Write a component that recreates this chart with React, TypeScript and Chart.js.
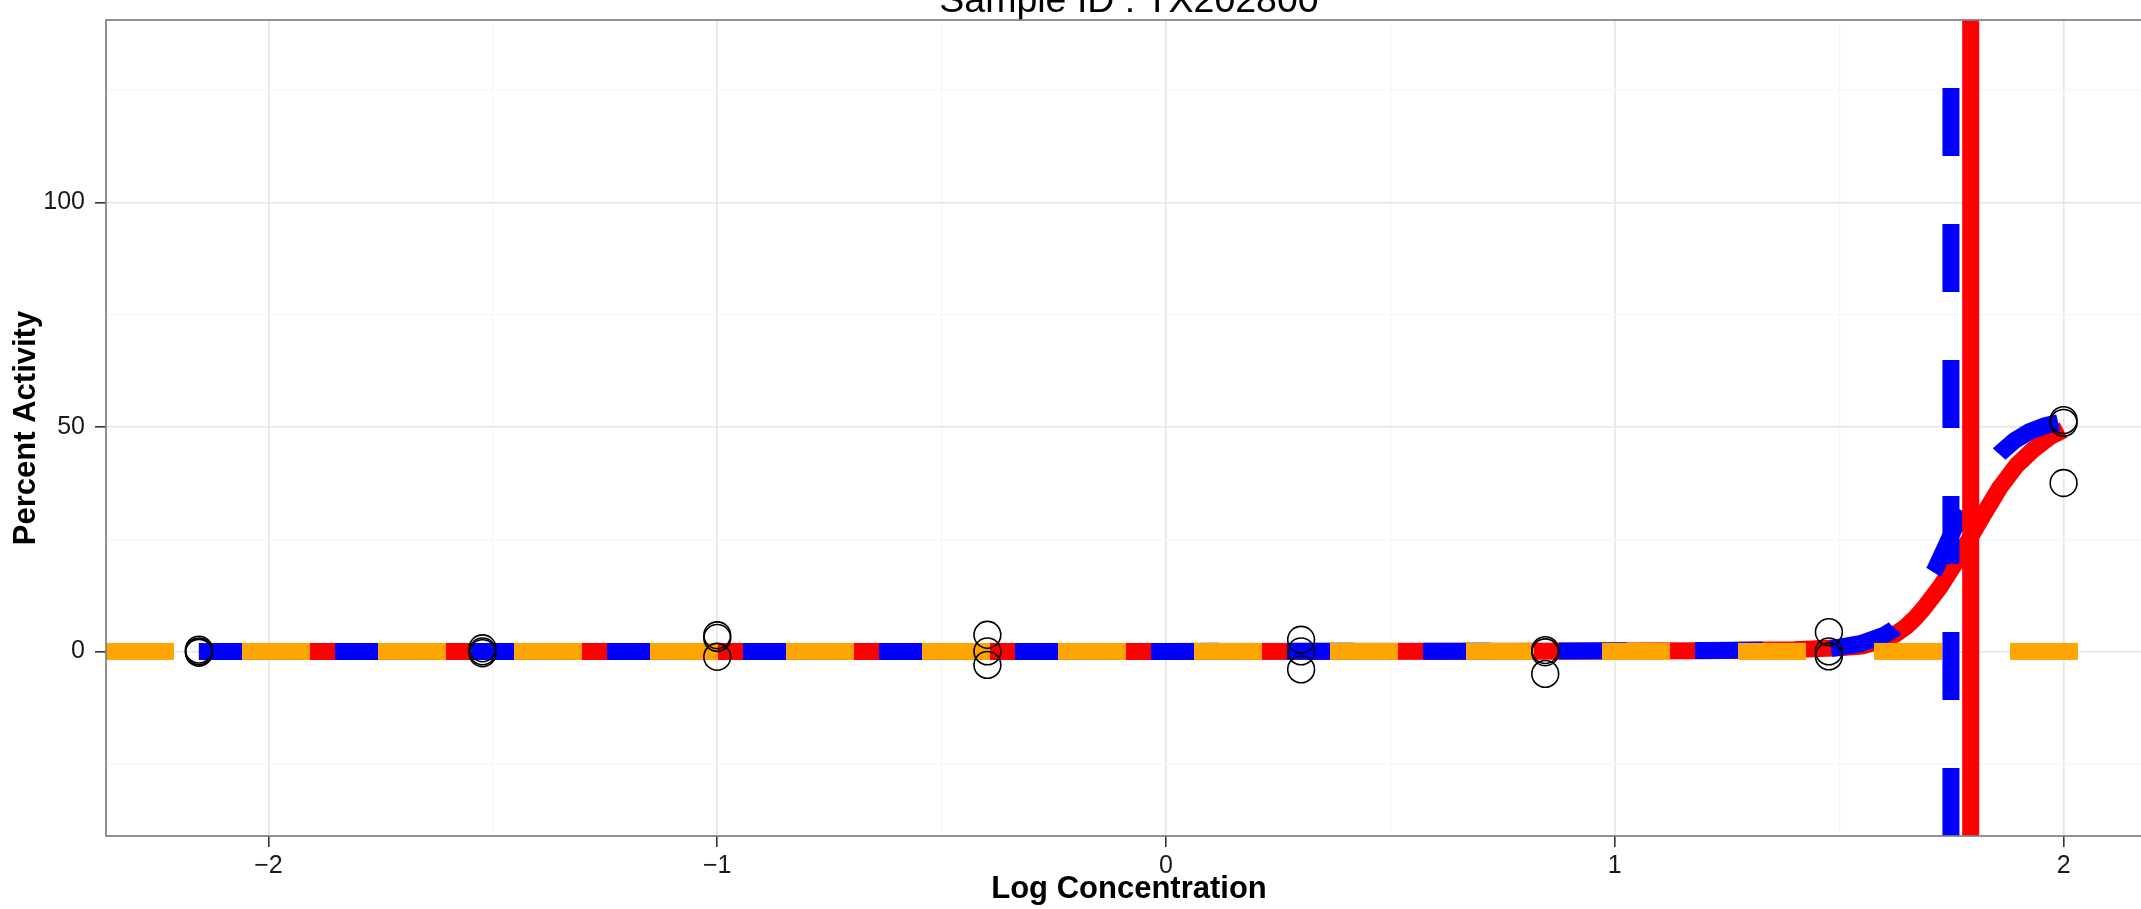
import React, { useEffect, useRef } from 'react';
import { Chart, registerables } from 'chart.js';

Chart.register(...registerables);

// ---- text ----
const TITLE = 'Sample ID : TX202800';
const X_TITLE = 'Log Concentration';
const Y_TITLE = 'Percent Activity';

// ---- axes ----
const xRange = [-2.362, 2.197];
const yRange = [-41.1, 140.6];
const xMajorTicks = [-2, -1, 0, 1, 2];
const xMinorTicks = [-1.5, -0.5, 0.5, 1.5];
const yMajorTicks = [0, 50, 100];
const yMinorTicks = [-25, 25, 75, 125];

// ---- observed points (three replicates per concentration) ----
const logConc = [-2.155, -1.523, -1.0, -0.398, 0.301, 0.845, 1.477, 2.0];
const rep1 = [0.4, 0.7, 3.6, 3.7, 2.6, 0.3, 4.3, 51.5];
const rep2 = [0.0, 0.0, 3.0, 0.0, 0.0, -0.2, 0.0, 50.9];
const rep3 = [-0.3, -0.4, -1.2, -3.0, -4.0, -5.0, -1.1, 37.5];

// ---- fitted curves ----
const redCurveX = [-2.155, -1.0, 0.0, 0.8, 1.2, 1.4, 1.5, 1.55, 1.6, 1.625, 1.65, 1.67, 1.69, 1.725, 1.762, 1.791, 1.821, 1.858, 1.895, 1.932, 1.97, 2.0];
const redCurveY = [0, 0, 0.01, 0.03, 0.15, 0.4, 0.8, 1.2, 2.6, 3.8, 5.6, 7.5, 9.8, 14.4, 20.2, 25.2, 30.4, 36.5, 41.4, 44.9, 47.8, 49.3];
const blueCurveX = [-2.155, -1.0, 0.0, 0.8, 1.2, 1.4, 1.48, 1.55, 1.6, 1.621, 1.65, 1.68, 1.7135, 1.745, 1.769, 1.8, 1.83, 1.858, 1.89, 1.925, 1.96, 2.0];
const blueCurveY = [0, 0, 0.01, 0.04, 0.2, 0.4, 0.6, 1.8, 3.6, 4.9, 8.3, 12.8, 18.2, 25.0, 30.0, 36.5, 41.0, 44.1, 46.9, 49.0, 50.3, 51.2];

// ---- reference lines ----
const redAC50 = 1.793;
const blueAC50 = 1.749;
const baselineY = 0;

const FONT = "'Liberation Sans', Arial, Helvetica, sans-serif";

const fmt = (v: number) => (v < 0 ? '\u2212' + Math.abs(v) : String(v));

const panelBorder = {
  id: 'panelBorder',
  afterDatasetsDraw(chart: any) {
    const { ctx, chartArea: a } = chart;
    ctx.save();
    ctx.strokeStyle = '#7f7f7f';
    ctx.lineWidth = 1.7;
    ctx.strokeRect(a.left, a.top, a.right - a.left, a.bottom - a.top);
    ctx.restore();
  },
};

export default function App() {
  const ref = useRef<HTMLCanvasElement>(null);

  useEffect(() => {
    const pts: { x: number; y: number }[] = [];
    logConc.forEach((x, i) => {
      pts.push({ x, y: rep1[i] });
      pts.push({ x, y: rep2[i] });
      pts.push({ x, y: rep3[i] });
    });
    const red = redCurveX.map((x, i) => ({ x, y: redCurveY[i] }));
    const blue = blueCurveX.map((x, i) => ({ x, y: blueCurveY[i] }));

    const LW = 17;
    const DASH = [68, 68];
    const lineBase = {
      showLine: true,
      pointRadius: 0,
      pointHoverRadius: 0,
      borderWidth: LW,
      tension: 0,
      borderJoinStyle: 'round' as const,
      borderCapStyle: 'butt' as const,
      clip: 0,
      fill: false,
    };

    const xAll = [...xMajorTicks, ...xMinorTicks].sort((a, b) => a - b);
    const yAll = [...yMajorTicks, ...yMinorTicks].sort((a, b) => a - b);

    const gridFor = (major: number[]) => ({
      color: (c: any) => (c.tick && major.includes(c.tick.value) ? '#e5e5e5' : '#f6f6f6'),
      lineWidth: (c: any) => (c.tick && major.includes(c.tick.value) ? 1.6 : 1.2),
      tickColor: (c: any) => (c.tick && major.includes(c.tick.value) ? '#333333' : 'rgba(0,0,0,0)'),
      tickWidth: 1.6,
      tickLength: 11,
      drawTicks: true,
    });

    const chart = new Chart(ref.current!, {
      type: 'scatter',
      data: {
        datasets: [
          {
            label: 'points',
            data: pts,
            pointRadius: 13.4,
            pointHoverRadius: 13.4,
            pointBorderWidth: 1.6,
            pointBorderColor: '#000000',
            pointBackgroundColor: 'rgba(0,0,0,0)',
            showLine: false,
          },
          {
            ...lineBase,
            label: 'red AC50',
            data: [{ x: redAC50, y: yRange[0] }, { x: redAC50, y: yRange[1] }],
            borderColor: '#ff0000',
          },
          {
            ...lineBase,
            label: 'blue AC50',
            data: [{ x: blueAC50, y: yRange[0] }, { x: blueAC50, y: yRange[1] }],
            borderColor: '#0000ff',
            borderDash: DASH,
          },
          {
            ...lineBase,
            label: 'baseline',
            data: [{ x: xRange[0], y: baselineY }, { x: xRange[1], y: baselineY }],
            borderColor: '#ffa500',
            borderDash: DASH,
          },
          {
            ...lineBase,
            label: 'blue curve',
            data: blue,
            borderColor: '#0000ff',
            borderDash: DASH,
          },
          {
            ...lineBase,
            label: 'red curve',
            data: red,
            borderColor: '#ff0000',
          },
        ] as any,
      },
      options: {
        animation: false,
        responsive: false,
        devicePixelRatio: 1,
        events: [],
        layout: { padding: 0, autoPadding: false },
        plugins: {
          legend: { display: false },
          tooltip: { enabled: false },
          title: {
            display: true,
            text: TITLE,
            fullSize: false,
            color: '#000000',
            font: { family: FONT, size: 37.5, weight: 'normal', lineHeight: 1 },
            padding: { top: 0.5, bottom: 0 },
          },
        },
        scales: {
          x: {
            type: 'linear',
            min: xRange[0],
            max: xRange[1],
            afterBuildTicks: (s: any) => {
              s.ticks = xAll.map((v) => ({ value: v }));
            },
            afterFit: (s: any) => {
              s.height = 73;
            },
            ticks: {
              autoSkip: false,
              maxRotation: 0,
              padding: 4.5,
              color: '#1a1a1a',
              font: { family: FONT, size: 25 },
              callback: (v: any) => (xMajorTicks.includes(Number(v)) ? fmt(Number(v)) : ''),
            },
            grid: gridFor(xMajorTicks),
            border: { display: false },
            title: {
              display: true,
              text: X_TITLE,
              color: '#000000',
              font: { family: FONT, size: 31, weight: 'bold', lineHeight: 1.2 },
              padding: { top: 0, bottom: 1 },
            },
          },
          y: {
            type: 'linear',
            min: yRange[0],
            max: yRange[1],
            afterBuildTicks: (s: any) => {
              s.ticks = yAll.map((v) => ({ value: v }));
            },
            afterFit: (s: any) => {
              s.width = 106;
            },
            ticks: {
              autoSkip: false,
              padding: 10,
              color: '#1a1a1a',
              font: { family: FONT, size: 25 },
              callback: (v: any) => (yMajorTicks.includes(Number(v)) ? fmt(Number(v)) : ''),
            },
            grid: gridFor(yMajorTicks),
            border: { display: false },
            title: {
              display: true,
              text: Y_TITLE,
              color: '#000000',
              font: { family: FONT, size: 31, weight: 'bold', lineHeight: 1.2 },
              padding: { top: 8, bottom: 0 },
            },
          },
        },
      } as any,
      plugins: [panelBorder],
    });
    return () => chart.destroy();
  }, []);

  return (
    <div
      style={{
        position: 'fixed',
        left: 0,
        top: 0,
        width: 2141,
        height: 909,
        overflow: 'hidden',
        background: '#ffffff',
      }}
    >
      <canvas
        ref={ref}
        width={2152}
        height={927}
        style={{ position: 'absolute', left: 0, top: -18, width: 2152, height: 927 }}
      />
    </div>
  );
}
